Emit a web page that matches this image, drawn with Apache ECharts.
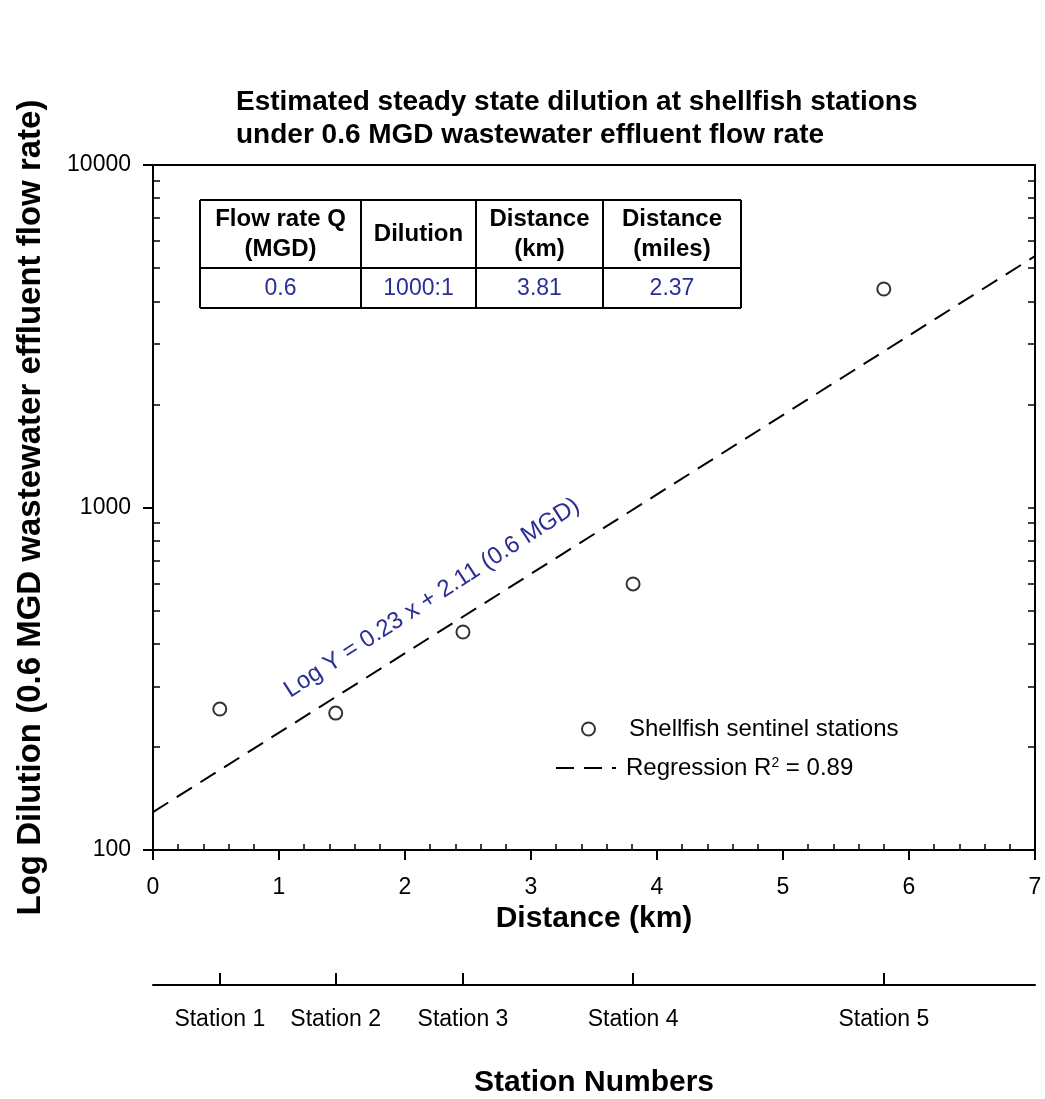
<!DOCTYPE html>
<html>
<head>
<meta charset="utf-8">
<script src="https://cdn.jsdelivr.net/npm/echarts@6/dist/echarts.min.js"></script>
<style>
  body { margin: 0; background: #fff; }
  #chartBox { width: 1045px; height: 1099px; }
</style>
</head>
<body>
<div id="chartBox"></div>
<script>
// data
var stationDist = [0.53, 1.45, 2.46, 3.81, 5.80];
var stationDilution = [258, 251, 433, 598, 4345];
var stationNames = ['Station 1', 'Station 2', 'Station 3', 'Station 4', 'Station 5'];
var regressionX = [0, 7];
var regressionY = [129, 5420];
var tableHeaders = ['Flow rate Q\n(MGD)', 'Dilution', 'Distance\n(km)', 'Distance\n(miles)'];
var tableValues = ['0.6', '1000:1', '3.81', '2.37'];
var yMinorTicks = [200, 300, 400, 500, 600, 700, 800, 900, 2000, 3000, 4000, 5000, 6000, 7000, 8000, 9000];

var FONT = 'Liberation Sans, Arial, sans-serif';
var BLUE = '#2b2f95';

var xMinorTicks = [];
for (var i = 1; i < 35; i++) {
    if (i % 5 !== 0) xMinorTicks.push(i / 5);
}

var scatterData = stationDist.map(function (d, i) { return [d, stationDilution[i]]; });
var regData = regressionX.map(function (d, i) { return [d, regressionY[i]]; });

var gridRect = { left: 153, top: 165, right: 10, bottom: 249, outerBoundsMode: 'none' };

// table drawn as graphic
var colEdges = [200, 361, 476, 603, 741];
var rowEdges = [200, 268, 308];
var tableEls = [];
colEdges.forEach(function (x) {
    tableEls.push({ type: 'line', shape: { x1: x, y1: rowEdges[0], x2: x, y2: rowEdges[2] }, style: { stroke: '#000', lineWidth: 2 } });
});
rowEdges.forEach(function (y) {
    tableEls.push({ type: 'line', shape: { x1: colEdges[0], y1: y, x2: colEdges[4], y2: y }, style: { stroke: '#000', lineWidth: 2 } });
});
for (var c = 0; c < 4; c++) {
    var cx = (colEdges[c] + colEdges[c + 1]) / 2;
    tableEls.push({
        type: 'text', x: cx, y: (rowEdges[0] + rowEdges[1]) / 2,
        style: { text: tableHeaders[c], font: 'bold 24px ' + FONT, fill: '#000', align: 'center', verticalAlign: 'middle', lineHeight: 30 }
    });
    tableEls.push({
        type: 'text', x: cx, y: (rowEdges[1] + rowEdges[2]) / 2 + 1,
        style: { text: tableValues[c], font: '23px ' + FONT, fill: BLUE, align: 'center', verticalAlign: 'middle' }
    });
}

var Chart = echarts.init(document.getElementById('chartBox'));

var option = {
    backgroundColor: '#fff',
    animation: false,
    title: {
        text: 'Estimated steady state dilution at shellfish stations\nunder 0.6 MGD wastewater effluent flow rate',
        left: 231,
        top: 81,
        textStyle: { fontFamily: FONT, fontWeight: 'bold', fontSize: 28, color: '#000', lineHeight: 33 }
    },
    legend: [{
        data: ['Shellfish sentinel stations'],
        left: 576, top: 712,
        itemWidth: 25, itemHeight: 13,
        textStyle: { fontFamily: FONT, fontSize: 24, color: '#000', padding: [0, 0, 0, 23] }
    }, {
        data: ['Regression'],
        left: 550, top: 751,
        itemWidth: 60, itemHeight: 14,
        itemStyle: { opacity: 0 },
        formatter: function () { return 'Regression R{sup|2} = 0.89'; },
        textStyle: {
            fontFamily: FONT, fontSize: 24, color: '#000', padding: [0, 0, 0, 5],
            rich: { sup: { fontFamily: FONT, fontSize: 14, verticalAlign: 'top', color: '#000' } }
        }
    }],
    grid: [gridRect, gridRect, gridRect, gridRect],
    xAxis: [{
        gridIndex: 0, type: 'value', position: 'bottom', min: 0, max: 7, interval: 1,
        name: 'Distance (km)', nameLocation: 'middle', nameGap: 53,
        nameTextStyle: { fontFamily: FONT, fontWeight: 'bold', fontSize: 30, color: '#000' },
        axisLine: { onZero: false, lineStyle: { color: '#000', width: 2 } },
        axisTick: { inside: false, length: 10, lineStyle: { color: '#000', width: 2 } },
        axisLabel: { fontFamily: FONT, fontSize: 23, color: '#000', margin: 26 },
        splitLine: { show: false }
    }, {
        gridIndex: 1, type: 'value', position: 'bottom', min: 0, max: 7,
        axisLine: { show: false, onZero: false },
        axisTick: { inside: true, length: 6, customValues: xMinorTicks, lineStyle: { color: '#000', width: 1.5 } },
        axisLabel: { show: false },
        splitLine: { show: false }
    }, {
        gridIndex: 2, type: 'value', position: 'top', min: 0, max: 7,
        axisLine: { onZero: false, lineStyle: { color: '#000', width: 2 } },
        axisTick: { show: false },
        axisLabel: { show: false },
        splitLine: { show: false }
    }, {
        gridIndex: 3, type: 'value', position: 'bottom', offset: 135, min: 0, max: 7,
        name: 'Station Numbers', nameLocation: 'middle', nameGap: 83,
        nameTextStyle: { fontFamily: FONT, fontWeight: 'bold', fontSize: 30, color: '#000' },
        axisLine: { onZero: false, lineStyle: { color: '#000', width: 2 } },
        axisTick: { inside: true, length: 12, customValues: stationDist, lineStyle: { color: '#000', width: 2 } },
        axisLabel: {
            customValues: stationDist, fontFamily: FONT, fontSize: 23, color: '#000', margin: 23,
            formatter: function (v) {
                var best = 0;
                stationDist.forEach(function (d, i) {
                    if (Math.abs(d - v) < Math.abs(stationDist[best] - v)) best = i;
                });
                return stationNames[best];
            }
        },
        splitLine: { show: false }
    }],
    yAxis: [{
        gridIndex: 0, type: 'log', logBase: 10, min: 100, max: 10000, position: 'left',
        name: 'Log Dilution (0.6 MGD wastewater effluent flow rate)', nameLocation: 'middle', nameGap: 106,
        nameTextStyle: { fontFamily: FONT, fontWeight: 'bold', fontSize: 33, color: '#000' },
        axisLine: { show: true, onZero: false, lineStyle: { color: '#000', width: 2 } },
        axisTick: { show: true, inside: false, length: 10, lineStyle: { color: '#000', width: 2 } },
        axisLabel: {
            fontFamily: FONT, fontSize: 23, color: '#000', margin: 22,
            formatter: function (v) { return String(Math.round(v)); }
        },
        splitLine: { show: false }
    }, {
        gridIndex: 1, type: 'log', logBase: 10, min: 100, max: 10000, position: 'left',
        axisLine: { show: false, onZero: false },
        axisTick: { show: true, inside: true, length: 7, customValues: yMinorTicks, lineStyle: { color: '#000', width: 1.5 } },
        axisLabel: { show: false },
        splitLine: { show: false }
    }, {
        gridIndex: 2, type: 'log', logBase: 10, min: 100, max: 10000, position: 'right',
        axisLine: { show: true, onZero: false, lineStyle: { color: '#000', width: 2 } },
        axisTick: { show: true, inside: true, length: 7, customValues: yMinorTicks.concat([1000]), lineStyle: { color: '#000', width: 1.5 } },
        axisLabel: { show: false },
        splitLine: { show: false }
    }, {
        gridIndex: 3, type: 'value', show: false, min: 0, max: 1
    }],
    graphic: [{
        type: 'group', children: tableEls
    }, {
        type: 'text', x: 432, y: 598, rotation: 33 * Math.PI / 180,
        style: { text: 'Log Y = 0.23 x + 2.11 (0.6 MGD)', font: '24px ' + FONT, fill: BLUE, align: 'center', verticalAlign: 'middle' }
    }],
    series: [{
        name: 'Shellfish sentinel stations',
        type: 'scatter',
        xAxisIndex: 0, yAxisIndex: 0,
        symbol: 'emptyCircle',
        symbolSize: 13,
        itemStyle: { color: '#000', borderColor: '#000', borderWidth: 2.5 },
        data: scatterData,
        z: 5
    }, {
        name: 'Regression',
        type: 'line',
        xAxisIndex: 0, yAxisIndex: 0,
        symbol: 'none',
        lineStyle: { color: '#000', width: 2, type: [18, 10] },
        itemStyle: { color: '#000' },
        data: regData
    }]
};

Chart.setOption(option);
</script>
</body>
</html>
